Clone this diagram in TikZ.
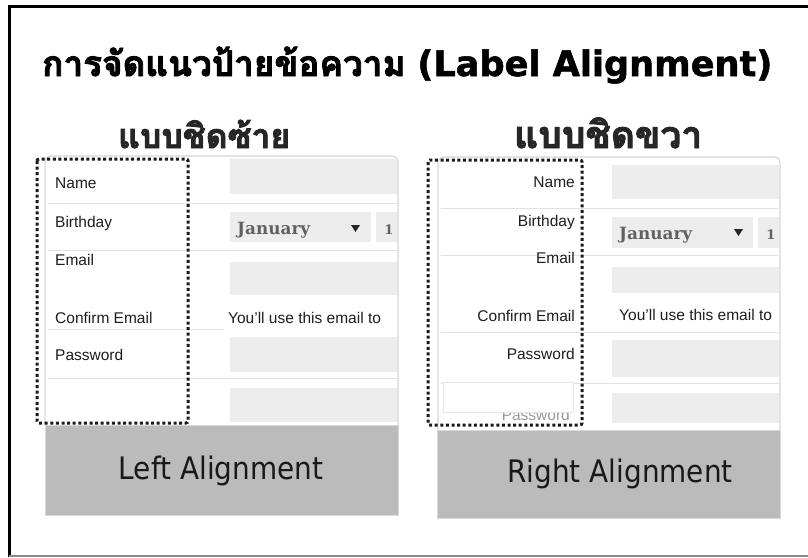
\documentclass[tikz,border=0pt]{standalone}
\usepackage{fontspec}
\usepackage{graphicx}
\setmainfont{Liberation Sans}
\newfontfamily\thaifont[Script=Thai,FakeBold=2.5,BoldFeatures={FakeBold=2.5}]{Loma}
\newfontfamily\dvsans{DejaVu Sans}
\newfontfamily\dvsansheavy[FakeBold=1.5,BoldFeatures={FakeBold=1.5}]{DejaVu Sans}
\newfontfamily\dvserif{DejaVu Serif}
\definecolor{fieldgray}{HTML}{EDEDED}
\definecolor{sepgray}{HTML}{E2E2E2}
\definecolor{panelgray}{HTML}{D6D6D6}
\definecolor{boxgray}{HTML}{BBBBBB}
\definecolor{labtext}{HTML}{1E1E1E}
\tikzset{
  field/.style={fill=fieldgray},
  sepline/.style={draw=sepgray, line width=1pt},
  panelline/.style={draw=panelgray, line width=1.2pt, rounded corners=6pt},
  dotbox/.style={draw=black!90, line width=3pt, dash pattern=on 3pt off 2.6pt, rounded corners=2pt},
  lbl/.style={inner sep=0pt, text=labtext, font=\fontsize{15.5}{18}\selectfont},
  jan/.style={inner sep=0pt, text=black!62, font=\dvserif\bfseries\fontsize{15}{18}\selectfont},
  caption/.style={inner sep=0pt, text=black!90, font=\dvsans\fontsize{31}{36}\selectfont},
  greybox/.style={fill=boxgray, draw=black!15, line width=0.8pt}
}
\begin{document}
\begin{tikzpicture}[x=1pt,y=-1pt]
\useasboundingbox (0,0) rectangle (808,557);
\fill[white] (0,0) rectangle (808,557);
% outer frame
\draw[line width=3pt] (9,557) -- (9,6.5) -- (808,6.5);
\draw[black!45, line width=1.5pt] (9,556) -- (808,556);

% title
\node[anchor=base west, inner sep=0pt] (title) at (42,76)
  {\resizebox{730pt}{!}{\thaifont\bfseries การจัดแนวป้ายข้อความ\ {\dvsansheavy\bfseries (Label Alignment)}}};
\node[anchor=base west, inner sep=0pt, text=black!85] (subL) at (118,148)
  {\resizebox{172pt}{!}{\thaifont\bfseries แบบชิดซ้าย}};
\node[anchor=base west, inner sep=0pt, text=black!85] (subR) at (514,148)
  {\resizebox{188pt}{!}{\thaifont\bfseries แบบชิดขวา}};

% ---------------- left panel ----------------
\draw[panelline] (45,425) -- (45,156) -- (398,156) -- (398,425);
\foreach \yy in {203,250,329,378} \draw[sepline] (48,\yy) -- (398,\yy);
\fill[field] (230,159) rectangle (397,194);
\fill[field] (230,212) rectangle (371,242);
\fill[field] (376,212) rectangle (397,242);
\fill[field] (230,262) rectangle (397,295);
\fill[white] (224,297) rectangle (397,333);
\fill[field] (230,337) rectangle (397,372);
\fill[field] (230,388) rectangle (397,422);
\node[jan, anchor=base west] (janL) at (237,234) {\resizebox{73pt}{!}{January}};
\fill[black!85] (351,225) -- (360,225) -- (355.5,232) -- cycle;
\node[jan, anchor=base] (oneL) at (389,234) {\fontsize{13}{14}\selectfont 1};
\node[lbl, anchor=base west] (nameL) at (55,188) {Name};
\node[lbl, anchor=base west] (birthL) at (55,227) {Birthday};
\node[lbl, anchor=base west] (emailL) at (55,265) {Email};
\node[lbl, anchor=base west] (confL) at (55,323) {Confirm Email};
\node[lbl, anchor=base west] (passL) at (55,360) {Password};
\node[lbl, anchor=base west] (helpL) at (228,323) {You’ll use this email to};
\draw[greybox] (45,425) rectangle (398,515);
\node[caption] (capL) at (221,471) {\scalebox{0.9}[1]{Left Alignment}};
\draw[dotbox] (37,159) rectangle (188,423);

% ---------------- right panel ----------------
\draw[panelline] (438,430) -- (438,157) -- (780,157) -- (780,430);
\foreach \yy in {208,255,332,383} \draw[sepline] (441,\yy) -- (779,\yy);
\fill[field] (612,165) rectangle (779,199);
\fill[field] (612,217) rectangle (753,248);
\fill[field] (758,217) rectangle (779,248);
\fill[field] (612,267) rectangle (779,293);
\fill[white] (613,293) rectangle (779,330);
\fill[field] (612,340) rectangle (779,377);
\fill[field] (612,393) rectangle (779,423);
\node[jan, anchor=base west] (janR) at (619,239) {\resizebox{73pt}{!}{January}};
\fill[black!85] (734,229) -- (743,229) -- (738.5,236) -- cycle;
\node[jan, anchor=base] (oneR) at (771,239) {\fontsize{13}{14}\selectfont 1};
\node[lbl, anchor=base east] (nameR) at (575,187) {Name};
\node[lbl, anchor=base east] (birthR) at (575,226) {Birthday};
\node[lbl, anchor=base east] (emailR) at (575,263) {Email};
\node[lbl, anchor=base east] (confR) at (575,321) {Confirm Email};
\node[lbl, anchor=base east] (passR) at (575,359) {Password};
\node[lbl, anchor=base west] (helpR) at (619,320) {You’ll use this email to};
\node[lbl, anchor=base east, text=black!40] (ghostR) at (570,420) {Password};
\fill[white] (443,382) rectangle (573,412);
\draw[black!10, line width=0.6pt] (443,382) rectangle (573,412);
\draw[greybox] (437,430) rectangle (780,518);
\node[caption] (capR) at (620,474) {\scalebox{0.9}[1]{Right Alignment}};
\draw[dotbox] (428,160) rectangle (582,425);
\end{tikzpicture}
\end{document}
